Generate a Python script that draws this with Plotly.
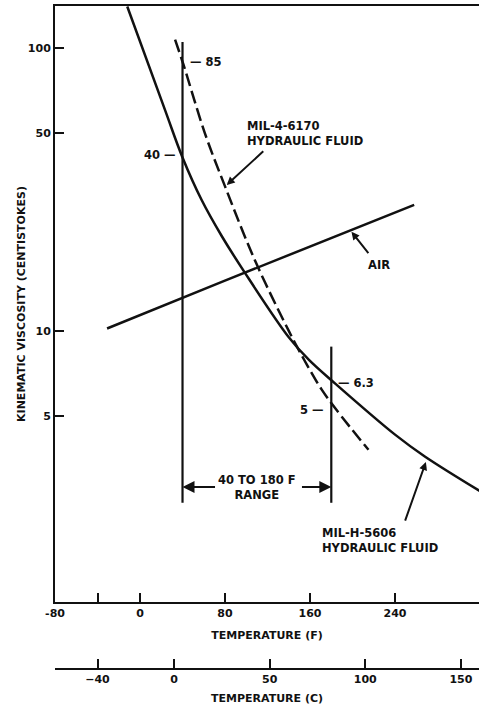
import numpy as np
import plotly.graph_objects as go

# MIL-H-5606 hydraulic fluid (solid curve), temperature F vs viscosity cSt
f_5606 = [-12, 23.5, 40, 58, 77, 98, 140, 159, 184, 240, 268, 321]
v_5606 = [140, 60.4, 41, 29, 21.6, 16.2, 9.5, 7.9, 6.5, 4.3, 3.6, 2.7]

# MIL-4-6170 hydraulic fluid (dashed curve)
f_6170 = [33, 41, 61, 80, 108, 140, 157, 171, 185, 215]
v_6170 = [107, 87, 50, 32.4, 17.8, 10, 7.6, 6.2, 5.25, 3.8]

# air (straight on the log scale)
f_air = [-31, 77, 258]
v_air = [10.2, 14.9, 27.9]

# 40 to 180 F range markers
range_f = [40, 180]
range_top = [105, 8.8]
range_bottom = 2.47

f_ticks = [-80, -40, 0, 80, 160, 240]
f_ticktext = ["-80", "", "0", "80", "160", "240"]
c_ticks = [-40, 0, 50, 100, 150]
v_ticks = [5, 10, 50, 100]

f_range = [-80, 319]
c_range = [(f - 32) * 5 / 9 for f in f_range]
v_range = [0.042, 2.148]

FONT = "DejaVu Sans"
INK = "#111111"
lg = np.log10

fig = go.Figure()

fig.add_trace(go.Scatter(x=f_5606, y=v_5606, mode="lines", line_shape="spline",
                         line=dict(color=INK, width=2.5), showlegend=False))
fig.add_trace(go.Scatter(x=f_6170, y=v_6170, mode="lines", line_shape="spline",
                         line=dict(color=INK, width=2.5, dash="13px,5px"), showlegend=False))
fig.add_trace(go.Scatter(x=f_air, y=v_air, mode="lines",
                         line=dict(color=INK, width=2.5), showlegend=False))
for f, top in zip(range_f, range_top):
    fig.add_trace(go.Scatter(x=[f, f], y=[top, range_bottom], mode="lines",
                             line=dict(color=INK, width=2.2), showlegend=False))

# invisible trace so the Celsius axis gets drawn
fig.add_trace(go.Scatter(x=c_range, y=[10 ** v_range[0]] * 2, xaxis="x2", mode="markers",
                         marker=dict(opacity=0), hoverinfo="skip", showlegend=False))

ann_font = dict(family=FONT, size=11.5, color=INK, weight="bold")


def text(x, y, s, xanchor="left", xshift=0, align="left"):
    fig.add_annotation(x=x, y=lg(y), text=s, showarrow=False, xanchor=xanchor,
                       yanchor="middle", xshift=xshift, align=align, font=ann_font)


def arrow(x, y, ax, ay, head=2, size=1.0):
    fig.add_annotation(x=x, y=lg(y), ax=ax, ay=lg(ay), axref="x", ayref="y",
                       text="", showarrow=True, arrowhead=head, arrowsize=size,
                       arrowwidth=2, arrowcolor=INK)


text(40, 89, "— 85", xshift=5)
text(40, 41.9, "40 —", xanchor="right", xshift=-5)
text(180, 6.55, "— 6.3", xshift=5)
text(180, 5.26, "5 —", xanchor="right", xshift=-5)

text(99, 49.9, "MIL-4-6170<br>HYDRAULIC FLUID")
arrow(81.6, 32.8, 117.4, 43.6, head=2, size=0.8)

text(225, 17.1, "AIR", xanchor="center")
arrow(199, 22.4, 216, 18.6, head=2, size=0.8)

text(169, 1.82, "MIL-H-5606<br>HYDRAULIC FLUID")
arrow(269, 3.44, 249, 2.11, head=2, size=0.8)

text(110, 2.8, "40 TO 180 F<br>RANGE", xanchor="center", align="center")
arrow(40, 2.81, 72, 2.81, head=2, size=1.2)
arrow(180, 2.81, 151, 2.81, head=2, size=1.2)

tick_font = dict(family=FONT, size=11, color=INK, weight="bold")
title_font = dict(family=FONT, size=11, color=INK, weight="bold")

fig.update_layout(
    width=479, height=709,
    margin=dict(l=55, r=0, t=6, b=40),
    plot_bgcolor="white", paper_bgcolor="white",
    font=dict(family=FONT, color=INK, weight="bold"),
    xaxis=dict(range=f_range, tickvals=f_ticks, ticktext=f_ticktext, automargin=False,
               ticks="inside", ticklen=9, tickwidth=2, tickcolor=INK,
               showline=True, linewidth=2, linecolor=INK, mirror=True,
               showgrid=False, zeroline=False, tickfont=tick_font,
               title=dict(text="TEMPERATURE (F)", font=title_font, standoff=12)),
    xaxis2=dict(range=c_range, tickvals=c_ticks, overlaying="x", anchor="free",
                position=0, side="bottom", automargin=False,
                ticks="inside", ticklen=9, tickwidth=2, tickcolor=INK,
                showline=True, linewidth=2, linecolor=INK,
                showgrid=False, zeroline=False, tickfont=tick_font,
                title=dict(text="TEMPERATURE (C)", font=title_font, standoff=8)),
    yaxis=dict(type="log", range=v_range, domain=[0.101, 1], automargin=False,
               tickvals=v_ticks, ticktext=[str(v) for v in v_ticks],
               ticks="inside", ticklen=9, tickwidth=2, tickcolor=INK,
               showline=True, linewidth=2, linecolor=INK,
               showgrid=False, zeroline=False, tickfont=tick_font,
               title=dict(text="KINEMATIC VISCOSITY (CENTISTOKES)", font=title_font, standoff=0)),
)

# drop the browser's default body margin so the figure sits at the window corner
fig.write_html("out.html", config={"displayModeBar": False},
               post_script="document.body.style.margin='0';")
